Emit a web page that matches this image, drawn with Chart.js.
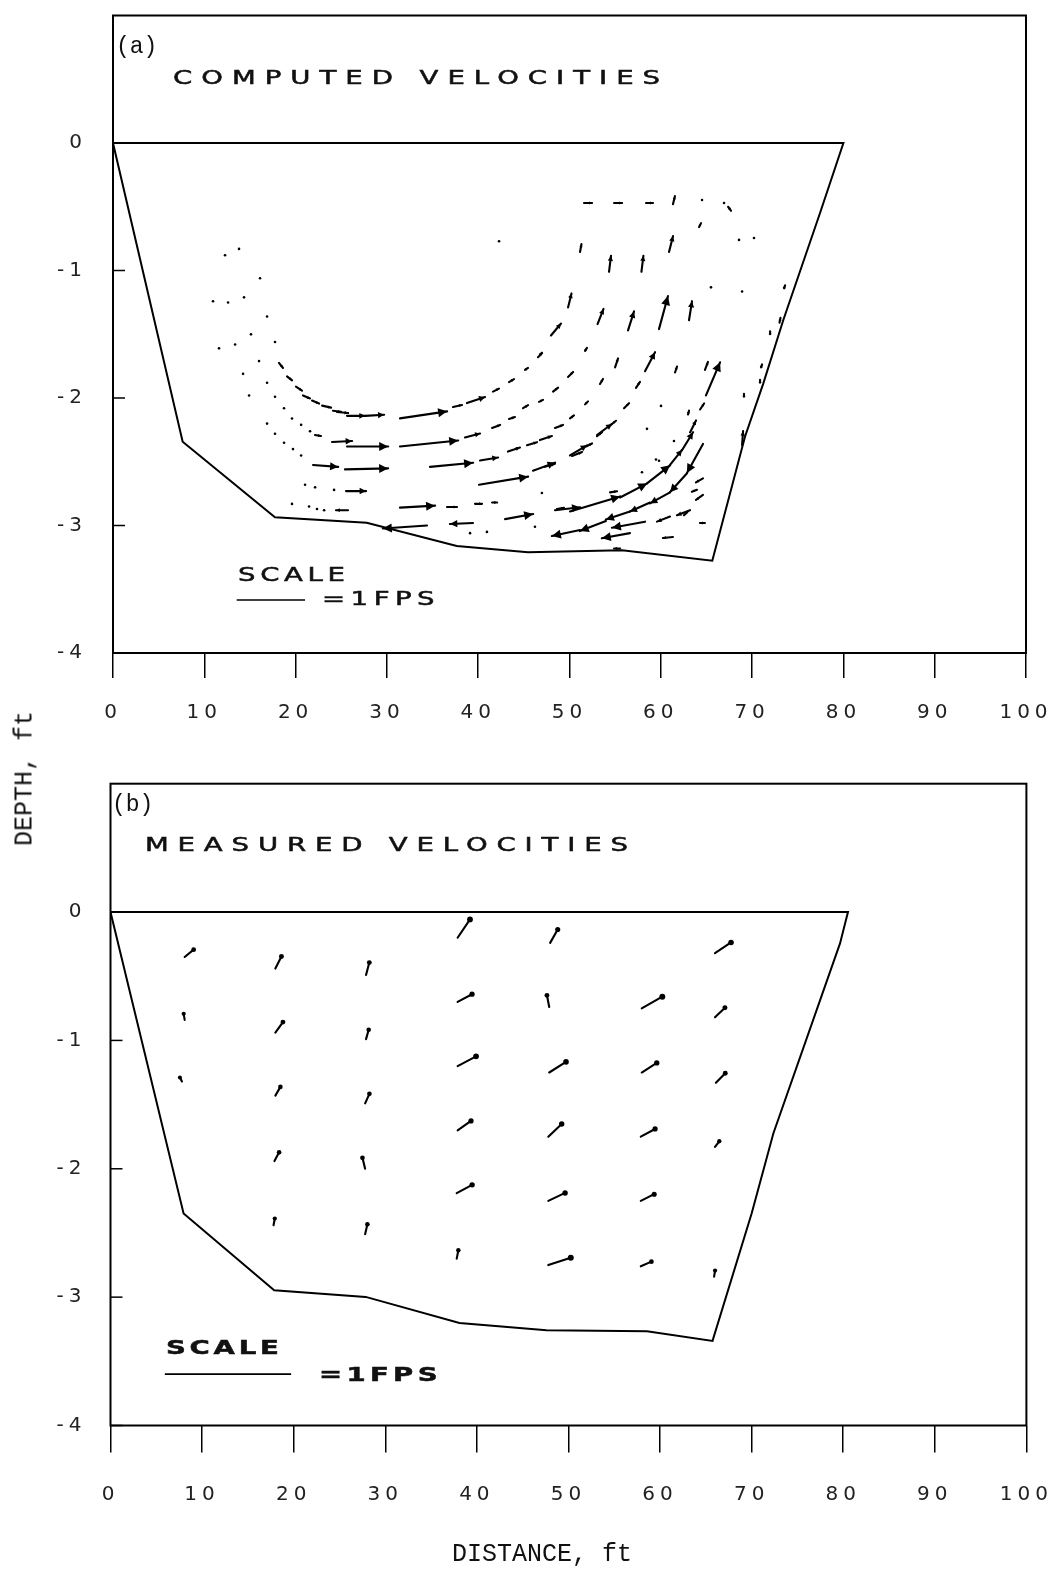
<!DOCTYPE html>
<html><head><meta charset="utf-8">
<script src="https://cdn.jsdelivr.net/npm/chart.js@4.4.0/dist/chart.umd.min.js"></script>
<style>
html,body{margin:0;padding:0;background:#fff;}
#wrap{position:relative;width:1062px;height:1572px;overflow:hidden;background:#fff;}
canvas{position:absolute;left:0;}
.t{position:absolute;white-space:nowrap;color:#111;line-height:1;}
.wide{font-family:'DejaVu Sans';font-size:19px;transform:scaleX(1.45);transform-origin:0 50%;-webkit-text-stroke:0.5px #111;}
.mono{font-family:'Liberation Mono';}
</style></head><body>
<div id="wrap">
<canvas id="ca" width="1062" height="740" style="top:0"></canvas>
<canvas id="cb" width="1062" height="832" style="top:740px"></canvas>
<div class="t mono" style="left:116px;top:36px;font-size:23px">(a)</div>
<div class="t wide" style="left:173px;top:68px;letter-spacing:6.2px">COMPUTED VELOCITIES</div>
<div class="t wide" style="left:238px;top:565px;letter-spacing:3.2px">SCALE</div>
<div class="t wide" style="left:322px;top:589px;letter-spacing:3.8px">=1FPS</div>
<div class="t mono" style="left:112px;top:794px;font-size:23px">(b)</div>
<div class="t wide" style="left:145px;top:835px;letter-spacing:6.1px">MEASURED VELOCITIES</div>
<div class="t wide" style="left:166px;top:1338px;letter-spacing:2.6px;font-weight:bold">SCALE</div>
<div class="t wide" style="left:319px;top:1365px;letter-spacing:3px;font-weight:bold">=1FPS</div>
<div class="t mono" style="left:-55px;top:766px;width:160px;text-align:center;font-size:25px;transform:rotate(-90deg);transform-origin:50% 50%">DEPTH, ft</div>
<div class="t mono" style="left:442px;top:1542px;width:200px;text-align:center;font-size:25px">DISTANCE, ft</div>
</div>
<script>
// ---------- DATA ----------
const xTickValues = [0,10,20,30,40,50,60,70,80,90,100];
const yTickValues = [0,-1,-2,-3,-4];

// channel cross-section outline (distance ft, depth ft)
const channelA_x = [0, 7.63, 17.74, 27.79, 37.65, 45.45, 55.75, 65.64, 69.22, 71.23, 73.42, 77.44, 80, 0];
const channelA_y = [0, -2.343, -2.936, -2.978, -3.161, -3.21, -3.195, -3.276, -2.304, -1.885, -1.388, -0.549, 0, 0];
const channelB_x = [0, 7.98, 17.87, 27.86, 38.10, 47.60, 58.57, 65.73, 70.0, 72.37, 79.65, 80.52, 0];
const channelB_y = [0, -2.348, -2.946, -2.998, -3.201, -3.258, -3.266, -3.341, -2.348, -1.725, -0.244, 0, 0];

// scale bar = 1 FPS (x start, x end, y)
const scaleBarA = [13.55, 21.03, -3.584];
const scaleBarB = [5.93, 19.72, -3.60];

// computed velocities: [x ft, y ft, lateral FPS, vertical FPS]
const computedArrows = [
[51.59,-0.47,.118,0],[54.88,-0.47,.118,0],[58.38,-0.47,.103,0],[61.33,-0.48,.029,.118],[64.30,-0.455,.029,.015],
[66.71,-0.47,.029,0],[67.37,-0.50,.044,-.059],[51.15,-0.855,.022,.118],[60.90,-0.855,.059,.235],[64.19,-0.66,.029,.059],
[68.35,-0.76,.029,0],[69.99,-0.745,.029,0],[54.33,-1.01,.029,.235],[57.88,-1.01,.029,.235],[49.84,-1.29,.051,.206],
[53.07,-1.42,.088,.221],[56.41,-1.47,.088,.279],[59.80,-1.46,.132,.485],[63.09,-1.39,.044,.279],[65.28,-1.14,.029,.015],
[68.79,-1.18,.015,.029],[73.50,-1.14,.015,.044],[47.97,-1.51,.147,.176],[51.70,-1.63,.029,.044],[54.99,-1.76,.044,.132],
[58.27,-1.79,.147,.279],[61.56,-1.80,.029,.088],[64.84,-1.78,.044,.118],[64.95,-1.98,.206,.485],[69.11,-1.99,0,.044],
[70.98,-1.76,.015,.044],[71.97,-1.50,0,.044],[73.0,-1.41,.015,.074],
[12.05,-0.87,.03,-.02],[13.58,-0.82,.03,-.02],[15.88,-1.05,.03,-.02],[10.73,-1.23,.03,-.02],[12.38,-1.24,.03,-.02],
[14.13,-1.20,.03,-.02],[16.65,-1.35,.03,-.02],[14.89,-1.49,.03,-.02],[17.52,-1.55,.03,-.02],[11.39,-1.60,.03,-.02],
[13.15,-1.57,.03,-.02],[15.77,-1.70,.03,-.02],[14.02,-1.80,.03,-.02],[16.65,-1.87,.03,-.02],[14.68,-1.97,.03,-.02],
[17.52,-1.98,.03,-.02],[18.51,-2.07,.03,-.02],[16.65,-2.19,.03,-.02],[17.52,-2.27,.03,-.02],[18.51,-2.34,.03,-.02],
[19.49,-2.39,.03,-.02],[20.38,-2.44,.03,-.02],[19.38,-2.15,.03,-.02],[20.38,-2.20,.03,-.02],[21.36,-2.25,.03,-.02],
[20.81,-2.67,.03,-.02],[21.91,-2.69,.03,-.02],[23.99,-2.71,.03,-.02],[19.38,-2.82,.03,-.02],[21.25,-2.84,.03,-.02],
[22.12,-2.86,.03,-.02],[22.90,-2.87,.03,-.02],
[18.18,-1.725,.059,-.074],[19.06,-1.83,.074,-.059],[20.04,-1.91,.088,-.059],[20.81,-1.98,.103,-.044],[21.80,-2.02,.103,-.044],
[22.90,-2.06,.132,-.029],[24.09,-2.10,.118,-.015],[22.12,-2.29,.088,-.015],
[24.54,-2.11,.162,-.015],[25.63,-2.14,.265,0],[27.61,-2.14,.279,.015],[31.43,-2.16,.691,.103],[37.24,-2.07,.132,.029],
[38.77,-2.04,.265,.088],[41.62,-1.95,.088,.044],[43.37,-1.875,.074,.044],[45.13,-1.78,.044,.029],[46.55,-1.68,.059,.059],
[23.99,-2.345,.294,.015],[25.63,-2.38,.603,0],[31.43,-2.38,.853,.088],[38.55,-2.31,.221,.059],[41.52,-2.235,.118,.044],
[43.37,-2.165,.088,.029],[44.91,-2.08,.074,.044],[46.66,-2.03,.059,.029],[48.20,-1.95,.074,.059],[49.84,-1.835,.074,.074],
[21.91,-2.525,.368,-.029],[25.41,-2.56,.632,.015],[34.72,-2.54,.632,.059],[40.20,-2.49,.265,.044],[43.26,-2.42,.176,.059],
[45.34,-2.37,.147,.044],[46.76,-2.33,.176,.059],[48.41,-2.235,.118,.044],[50.05,-2.16,.059,.044],[51.70,-2.05,.044,.044],
[53.34,-1.89,.044,.074],
[40.08,-2.68,.721,.118],[47.31,-2.54,.147,.044],[50.28,-2.455,.147,.059],[51.81,-2.38,.088,.044],[53.01,-2.30,.074,.059],
[54.54,-2.21,.074,.059],[55.97,-2.08,.074,.074],[57.28,-1.92,.059,.088],
[42.94,-2.95,.412,.074],[46.00,-2.57,.324,.118],[50.05,-2.45,.250,.147],[53.01,-2.29,.221,.162],[58.27,-2.25,.029,.015],
[63.20,-2.27,.088,.176],
[25.52,-2.73,.294,0],[25.74,-2.88,-.176,0],[31.43,-2.86,.515,.029],[36.58,-2.855,.147,0],[39.65,-2.83,.103,0],
[41.52,-2.82,.074,0],[46.76,-2.745,.029,0],[34.39,-3.00,-.647,-.044],[39.43,-2.98,-.338,-.015],[38.89,-3.06,.029,0],
[40.74,-3.05,.029,0],[46.00,-3.01,.029,0],[51.15,-3.035,-.412,-.088],[48.41,-2.88,.368,.044],
[53.99,-2.965,-.382,-.147],[56.62,-2.89,-.353,-.118],[58.82,-2.82,-.294,-.132],[61.01,-2.74,-.294,-.162],[62.87,-2.59,-.250,-.279],
[64.62,-2.36,-.235,-.426],[50.05,-2.89,.735,.221],[55.54,-2.78,.397,.206],[58.49,-2.67,.338,.265],[61.01,-2.525,.176,.221],
[62.32,-2.41,.162,.265],[56.62,-3.06,-.412,-.074],[58.27,-2.97,-.485,-.088],[61.33,-3.09,-.147,-.015],[61.01,-2.93,-.191,-.074],
[63.20,-2.88,-.191,-.074],[62.54,-2.92,.059,.059],[64.62,-2.76,-.103,-.074],[64.62,-2.63,-.103,-.059],[64.84,-2.98,-.074,0],
[63.96,-2.72,-.074,-.029],[68.90,-2.37,.015,.206],[64.30,-2.09,.059,.088],[70.87,-1.88,0,.044],[46.76,-1.66,.029,.029],
[62.98,-2.13,.015,.059],[59.91,-2.07,.015,.015],[59.36,-2.49,.015,.015],[61.33,-2.345,.015,.015],[42.17,-0.77,.015,0],
[57.72,-2.59,.029,.015],[59.59,-2.50,.029,.015],[54.44,-2.74,.103,.015],[48.63,-2.87,.103,.015],[55.54,-3.18,-.088,0]
];

// measured velocities: [x ft, y ft, lateral FPS, vertical FPS]
const measuredArrows = [
[8.1,-0.35,.071,.058],[8.1,-0.84,-.008,.048],[7.8,-1.32,-.016,.032],
[18.0,-0.44,.048,.095],[18.0,-0.94,.060,.084],[18.0,-1.43,.040,.069],[17.9,-1.94,.037,.069],[17.8,-2.44,.010,.053],
[27.9,-0.49,.026,.098],[27.9,-0.99,.021,.074],[27.8,-1.49,.034,.075],[27.8,-2.00,-.021,.087],[27.8,-2.51,.018,.079],
[37.9,-0.20,.098,.145],[37.9,-0.70,.114,.061],[37.9,-1.20,.146,.077],[37.9,-1.70,.106,.074],[37.8,-2.19,.122,.066],[37.8,-2.70,.013,.066],
[48.0,-0.24,.060,.106],[47.9,-0.74,-.018,.093],[47.9,-1.25,.133,.084],[47.8,-1.75,.106,.101],[47.8,-2.25,.133,.063],[47.8,-2.75,.178,.058],
[58.0,-0.75,.163,.092],[58.0,-1.25,.119,.076],[57.9,-1.75,.113,.061],[57.9,-2.25,.106,.053],[57.9,-2.76,.084,.037],
[66.0,-0.32,.127,.085],[66.0,-0.82,.079,.076],[66.1,-1.33,.074,.076],[66.0,-1.83,.034,.045],[65.9,-2.84,.008,.048]
];

// ---------- DRAWING ----------
function drawArrow(ctx, x0, y0, x1, y1, style) {
  const dx = x1 - x0, dy = y1 - y0, len = Math.hypot(dx, dy);
  if (len < 2.6) {
    ctx.beginPath(); ctx.arc(x1, y1, 1.3, 0, Math.PI * 2); ctx.fill(); return;
  }
  ctx.beginPath(); ctx.moveTo(x0, y0); ctx.lineTo(x1, y1); ctx.stroke();
  if (style === 'blob') {
    ctx.beginPath(); ctx.arc(x1, y1, Math.min(3.2, 1.8 + len * 0.05), 0, Math.PI * 2); ctx.fill();
  } else {
    const h = Math.min(9, Math.max(3, len * 0.32)), w = h * 0.5;
    const ux = dx / len, uy = dy / len;
    ctx.beginPath();
    ctx.moveTo(x1, y1);
    ctx.lineTo(x1 - ux * h - uy * w, y1 - uy * h + ux * w);
    ctx.lineTo(x1 - ux * h + uy * w, y1 - uy * h - ux * w);
    ctx.closePath(); ctx.fill();
  }
}

const panelPlugin = {
  id: 'panel',
  beforeDraw(chart) {
    try { chart.ctx.letterSpacing = '5px'; } catch (e) {}
  },
  afterDatasetsDraw(chart, args, opts) {
    const { ctx, chartArea: a, scales: { x, y } } = chart;
    ctx.save();
    try { ctx.letterSpacing = '0px'; } catch (e) {}
    ctx.strokeStyle = '#000'; ctx.fillStyle = '#000';
    ctx.lineWidth = 2;
    ctx.strokeRect(a.left, a.top, a.right - a.left, a.bottom - a.top);
    ctx.lineWidth = 1.5;
    for (const v of yTickValues) {
      const py = y.getPixelForValue(v);
      ctx.beginPath(); ctx.moveTo(a.left, py); ctx.lineTo(a.left + 12, py); ctx.stroke();
    }
    const bar = opts.bar;
    const bx0 = x.getPixelForValue(bar[0]), bx1 = x.getPixelForValue(bar[1]), by = y.getPixelForValue(bar[2]);
    ctx.lineWidth = 1.6;
    ctx.beginPath(); ctx.moveTo(bx0, by); ctx.lineTo(bx1, by); ctx.stroke();
    const L = bx1 - bx0;
    ctx.lineWidth = opts.lw; ctx.lineCap = 'round';
    for (const [vx, vy, u, w] of opts.arrows) {
      const x0 = x.getPixelForValue(vx), y0 = y.getPixelForValue(vy);
      drawArrow(ctx, x0, y0, x0 + u * L, y0 - w * L, opts.style);
    }
    ctx.restore();
  }
};

function makeChart(id, g, outX, outY, arrows, bar, style, lw) {
  const pts = outX.map((v, i) => ({ x: v, y: outY[i] }));
  return new Chart(document.getElementById(id), {
    type: 'scatter',
    data: { datasets: [{ data: pts, showLine: true, borderColor: '#000', borderWidth: 2, pointRadius: 0, tension: 0, fill: false }] },
    plugins: [panelPlugin],
    options: {
      responsive: false, animation: false, devicePixelRatio: 1,
      layout: { padding: { left: 0, right: g.padR, top: g.padT, bottom: 0 } },
      plugins: { legend: { display: false }, tooltip: { enabled: false }, panel: { arrows, bar, style, lw } },
      scales: {
        x: {
          type: 'linear', min: 0, max: 100,
          afterFit(s) { s.height = g.xH; s.paddingLeft = 0; s.paddingRight = 0; },
          afterBuildTicks(s) { s.ticks = xTickValues.map(v => ({ value: v })); },
          grid: { drawOnChartArea: false, drawTicks: true, tickLength: g.tickL, color: '#000', lineWidth: 1.5 },
          border: { display: false },
          ticks: { padding: g.xPad, maxRotation: 0, autoSkip: false, color: '#222', font: { family: 'DejaVu Sans', size: 20 }, callback: v => String(v) }
        },
        y: {
          type: 'linear', min: -4, max: 1,
          afterFit(s) { s.width = g.yW; s.paddingTop = 0; s.paddingBottom = 0; },
          afterBuildTicks(s) { s.ticks = yTickValues.map(v => ({ value: v })); },
          grid: { drawOnChartArea: false, drawTicks: false },
          border: { display: false },
          ticks: { padding: g.yPad, color: '#222', font: { family: 'DejaVu Sans', size: 20 }, callback: v => String(v) }
        }
      }
    }
  });
}

makeChart('ca', { padR: 36, padT: 15.5, xH: 87, yW: 113, tickL: 25, xPad: 23, yPad: 26 },
  channelA_x, channelA_y, computedArrows, scaleBarA, 'head', 2.1);
makeChart('cb', { padR: 35.6, padT: 43.7, xH: 146.5, yW: 110.5, tickL: 27, xPad: 30, yPad: 24 },
  channelB_x, channelB_y, measuredArrows, scaleBarB, 'blob', 2.1);
</script>
</body></html>
